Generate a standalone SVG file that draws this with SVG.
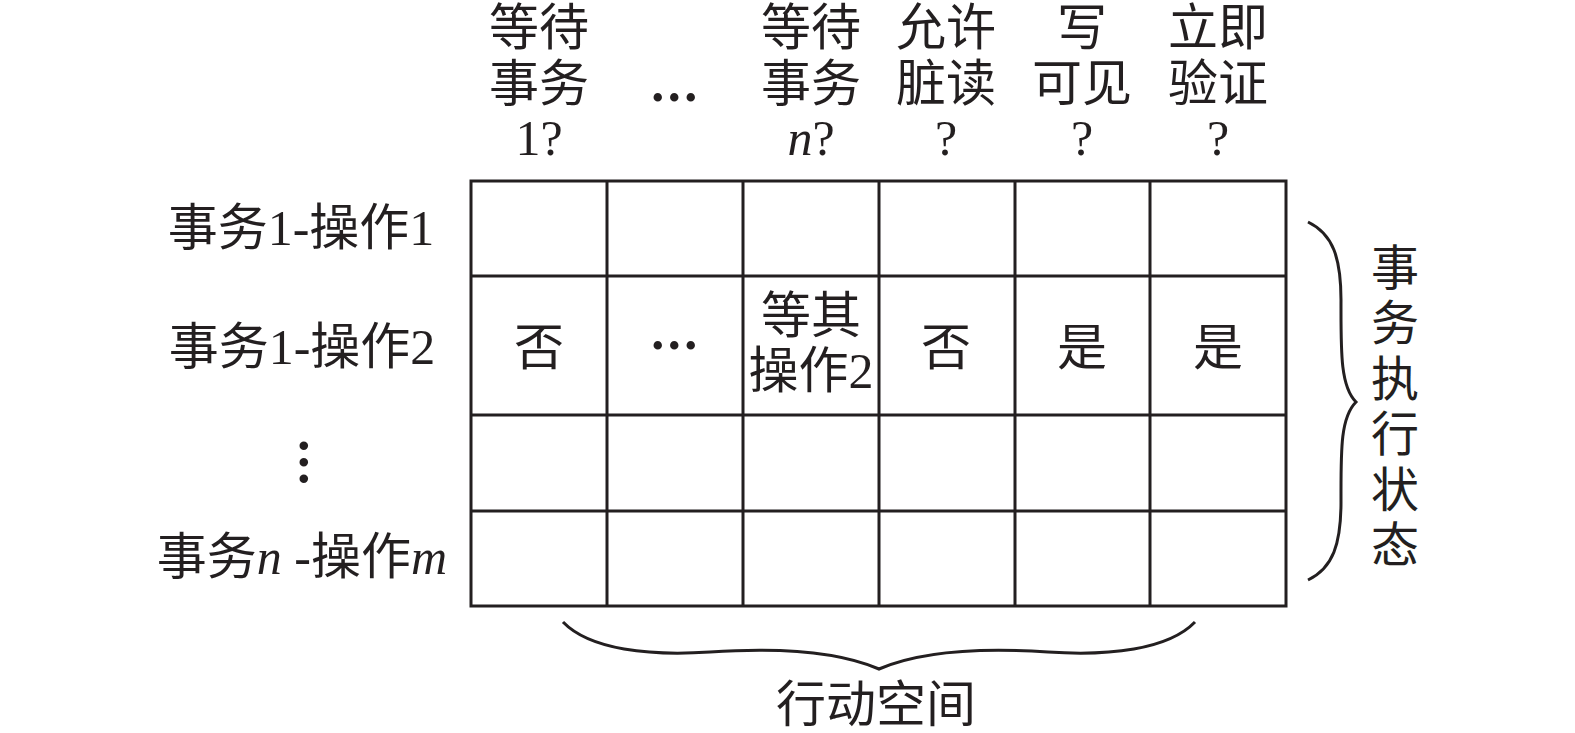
<svg xmlns="http://www.w3.org/2000/svg" width="1575" height="733" viewBox="0 0 1575 733">
<style>
.t{font-family:"Liberation Serif","Noto Sans CJK SC",serif;font-size:50px;fill:#231f20;text-anchor:middle}
.v{font-family:"Liberation Serif","Noto Sans CJK SC",serif;font-size:48px;fill:#231f20;text-anchor:middle}
.d{font-family:"Liberation Serif",serif;font-size:52px;font-weight:bold;fill:#231f20;text-anchor:middle;letter-spacing:3.5px}
.i{font-style:italic}
.g{stroke:#231f20;stroke-width:3;fill:none}
.b{stroke:#231f20;stroke-width:3;fill:none;stroke-linejoin:miter}
</style>
<rect width="1575" height="733" fill="#ffffff"/>
<g id="grid" class="g">
<rect x="471" y="181" width="815" height="425"/>
<line x1="607" y1="181" x2="607" y2="606"/>
<line x1="743" y1="181" x2="743" y2="606"/>
<line x1="879" y1="181" x2="879" y2="606"/>
<line x1="1015" y1="181" x2="1015" y2="606"/>
<line x1="1150" y1="181" x2="1150" y2="606"/>
<line x1="471" y1="276" x2="1286" y2="276"/>
<line x1="471" y1="415" x2="1286" y2="415"/>
<line x1="471" y1="511" x2="1286" y2="511"/>
</g>
<g id="headers">
<g id="h1"><text class="t" x="539" y="45">等待</text><text class="t" x="539" y="101">事务</text><text class="t" x="539" y="155">1?</text></g>
<g id="h2"><text class="d" x="676" y="101">...</text></g>
<g id="h3"><text class="t" x="811" y="45">等待</text><text class="t" x="811" y="101">事务</text><text class="t" x="811" y="155"><tspan class="i">n</tspan>?</text></g>
<g id="h4"><text class="t" x="946" y="45">允许</text><text class="t" x="946" y="101">脏读</text><text class="t" x="946" y="155">?</text></g>
<g id="h5"><text class="t" x="1082" y="45">写</text><text class="t" x="1082" y="101">可见</text><text class="t" x="1082" y="155">?</text></g>
<g id="h6"><text class="t" x="1218" y="45">立即</text><text class="t" x="1218" y="101">验证</text><text class="t" x="1218" y="155">?</text></g>
</g>
<g id="rows">
<g id="r1"><text class="t" x="301" y="245">事务1-操作1</text></g>
<g id="r2"><text class="t" x="302" y="364">事务1-操作2</text></g>
<g id="r3"><text class="d" x="304" y="466" transform="rotate(90 303 463)">...</text></g>
<g id="r4"><text class="t" x="302" y="574">事务<tspan class="i">n</tspan> -操作<tspan class="i">m</tspan></text></g>
</g>
<g id="cells">
<text class="t" x="539" y="365">否</text>
<text class="d" x="676" y="349">...</text>
<text class="t" x="811" y="333">等其</text>
<text class="t" x="811" y="388">操作2</text>
<text class="t" x="946" y="365">否</text>
<text class="t" x="1082" y="365">是</text>
<text class="t" x="1218" y="365">是</text>
</g>
<g id="connectors">
<path id="brace-right" class="b" d="M1308,222 C1333,234 1341,258 1341,300 C1341,350 1340,386 1356,402 C1340,418 1341,452 1341,502 C1341,544 1333,568 1308,580"/>
<path id="brace-bottom" class="b" d="M563,622 C590,650 650,656 710,652 C770,648 835,650 879,669 C923,650 988,648 1048,652 C1108,656 1168,650 1195,622"/>
</g>
<g id="label-right">
<text class="v" x="1395" y="285">事</text>
<text class="v" x="1395" y="340">务</text>
<text class="v" x="1395" y="396">执</text>
<text class="v" x="1395" y="451">行</text>
<text class="v" x="1395" y="507">状</text>
<text class="v" x="1395" y="562">态</text>
</g>
<g id="label-bottom"><text class="t" x="876" y="722">行动空间</text></g>
</svg>
